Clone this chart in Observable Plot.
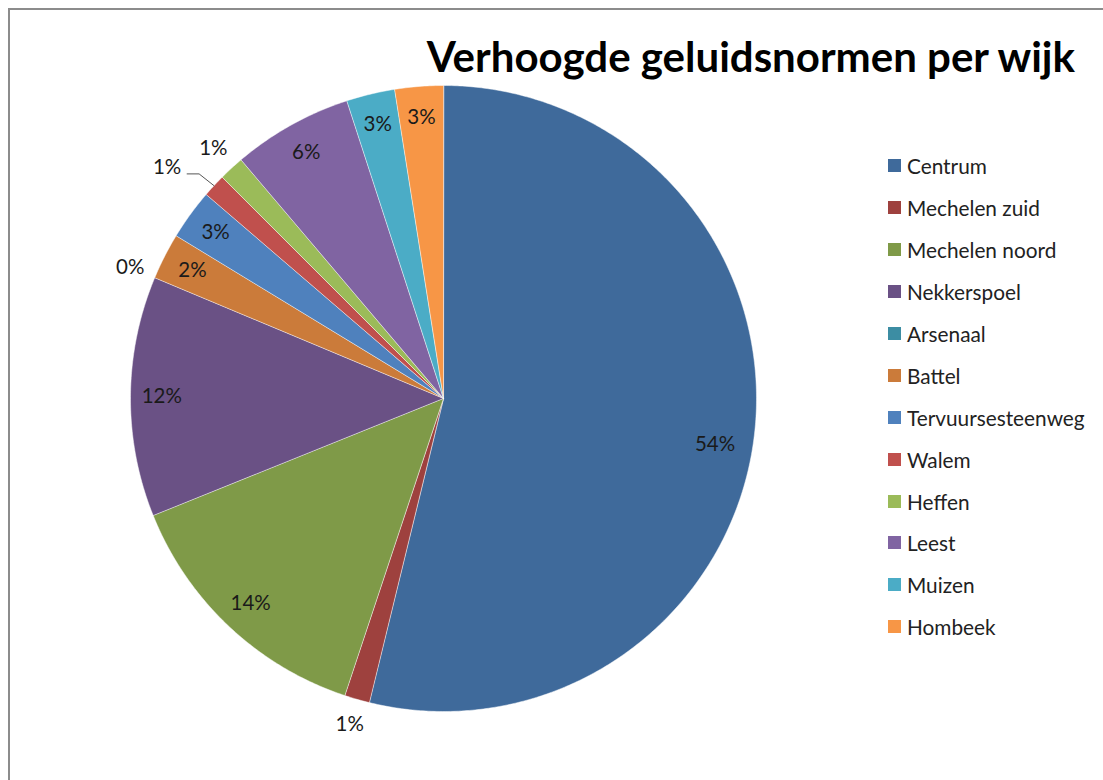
<!DOCTYPE html>
<html><head><meta charset="utf-8">
<script src="https://cdn.jsdelivr.net/npm/d3@7"></script>
<script src="https://cdn.jsdelivr.net/npm/@observablehq/plot@0.6"></script>
<style>
html,body{margin:0;padding:0;background:#fff;}
#wrap{position:relative;width:1103px;height:780px;overflow:hidden;background:#fff;}
#frame{position:absolute;left:8px;top:8px;width:1200px;height:900px;border-left:2px solid #8c8c8c;border-top:2px solid #8c8c8c;}
#chart{position:absolute;left:0;top:0;}
#title{position:absolute;right:28px;top:31px;font-family:Lato,sans-serif;font-weight:bold;font-size:42px;line-height:50px;color:#000;white-space:nowrap;}
#legend{position:absolute;left:888px;top:145px;font-family:Lato,sans-serif;font-size:20.8px;color:#222;}
.li{height:41.9px;display:flex;align-items:center;white-space:nowrap;}
.sw{width:13px;height:13px;margin-right:6px;flex:none;}
</style></head>
<body>
<div id="wrap">
  <div id="frame"></div>
  <div id="chart"></div>
  <div id="title">Verhoogde geluidsnormen per wijk</div>
  <div id="legend"></div>
</div>
<script>
const categories = ["Centrum","Mechelen zuid","Mechelen noord","Nekkerspoel","Arsenaal","Battel","Tervuursesteenweg","Walem","Heffen","Leest","Muizen","Hombeek"];
const values = [53.8, 1.3, 13.8, 12.4, 0, 2.4, 2.6, 1.2, 1.3, 6.2, 2.5, 2.5];
const colors = ["#3F6A9B","#9E413E","#7F9A48","#6A5185","#3C8DA3","#CB7B3A","#4F81BD","#C0504D","#9BBB59","#8064A2","#4BACC6","#F79646"];

const total = d3.sum(values);
const R = 313; // pixel radius, used for layout conversions only
let acc = 0;
const slices = categories.map((name, i) => {
  const a0 = acc / total * 2 * Math.PI;
  acc += values[i];
  const a1 = acc / total * 2 * Math.PI;
  return {name, value: values[i], a0, a1, mid: (a0 + a1) / 2, pct: Math.round(values[i] / total * 100 + 1e-9)};
});

// polygons
const poly = [];
for (const s of slices) {
  if (s.value <= 0) continue;
  poly.push({name: s.name, x: 0, y: 0});
  const n = Math.max(2, Math.ceil((s.a1 - s.a0) / (Math.PI / 360)));
  for (let k = 0; k <= n; k++) {
    const a = s.a0 + (s.a1 - s.a0) * k / n;
    poly.push({name: s.name, x: Math.sin(a), y: Math.cos(a)});
  }
}

// labels
const labels = [];
const leaders = [];
const outside = slices.filter(s => s.value / total < 0.02);
const pos = (a, r) => ({x: r * Math.sin(a), y: r * Math.cos(a)});
for (const s of slices) {
  if (s.value / total >= 0.02) {
    const big = s.value / total > 0.5;
    labels.push({...pos(s.mid + (big ? 0.05 : 0), big ? 0.88 : 0.9), t: s.pct + "%"});
  }
}
const outPos = outside.map(s => ({s, ...pos(s.mid, 1.085)}));
for (let i = 0; i < outPos.length; i++) {
  const p = outPos[i], q = outPos[i + 1];
  let collide = q && Math.hypot((p.x - q.x) * R, (p.y - q.y) * R) < 30;
  if (collide) {
    const np = pos(p.s.mid - 3 * Math.PI / 180, 1.15);
    labels.push({x: np.x, y: np.y, t: p.s.pct + "%"});
    const e = pos(p.s.mid, 1.0);
    const sx = np.x + 20 / R, sy = np.y - 6 / R;
    leaders.push({x: sx, y: sy, k: 0}, {x: sx + 12 / R, y: sy, k: 1}, {x: e.x, y: e.y, k: 2});
  } else {
    labels.push({x: p.x, y: p.y, t: p.s.pct + "%"});
  }
}

const plot = Plot.plot({
  width: 1103, height: 780,
  margin: 0,
  x: {domain: [-1, 1], range: [443 - R, 443 + R], axis: null},
  y: {domain: [-1, 1], range: [398 + R, 398 - R], axis: null},
  color: {domain: categories, range: colors},
  style: {background: "transparent"},
  marks: [
    Plot.line(poly, {x: "x", y: "y", z: "name", fill: "name", stroke: "#ffffff", strokeOpacity: 0.6, strokeWidth: 0.8, curve: "linear-closed"}),
    Plot.line(leaders, {x: "x", y: "y", stroke: "#555", strokeWidth: 1, curve: "linear"}),
    Plot.text(labels, {x: "x", y: "y", text: "t", fontFamily: "Lato, sans-serif", fontSize: 20.5, fill: "#1a1a1a"})
  ]
});
document.getElementById("chart").appendChild(plot);

const lg = document.getElementById("legend");
categories.forEach((c, i) => {
  const d = document.createElement("div");
  d.className = "li";
  d.innerHTML = `<span class="sw" style="background:${colors[i]}"></span><span>${c}</span>`;
  lg.appendChild(d);
});
</script>
</body></html>
